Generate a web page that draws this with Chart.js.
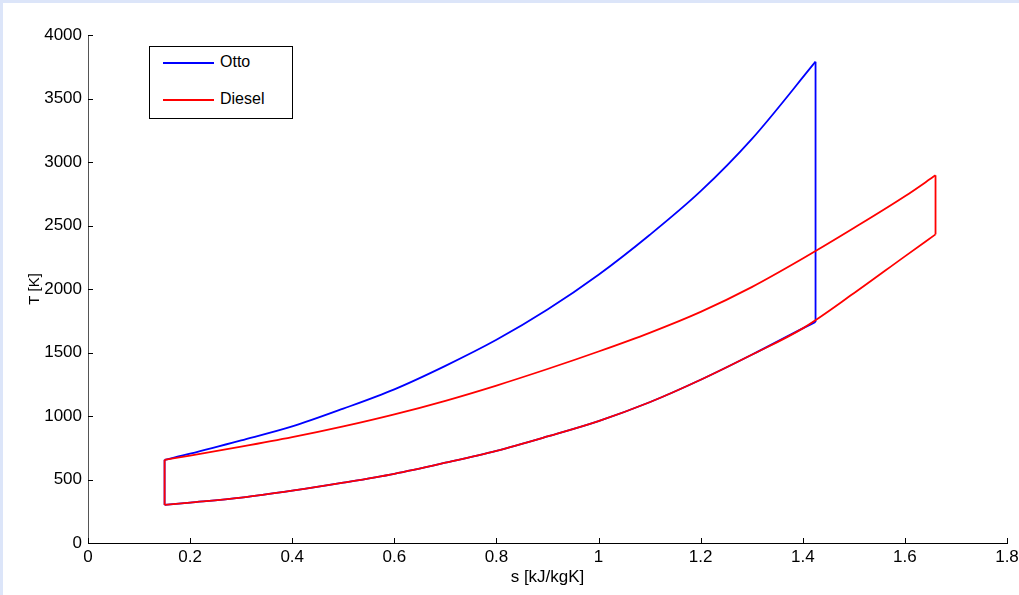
<!DOCTYPE html>
<html>
<head>
<meta charset="utf-8">
<script src="https://cdn.jsdelivr.net/npm/chart.js@4.4.1/dist/chart.umd.min.js"></script>
<style>
  html, body { margin: 0; padding: 0; background: #dce5f9; overflow: hidden; }
  #wrap { position: absolute; left: 3px; top: 3px; width: 1016px; height: 592px; background: #fff; }
  #legend { position: absolute; left: 146px; top: 43px; width: 142px; height: 71px; border: 1px solid #000; background: #fff;
            font-family: "Liberation Sans", Arial, Helvetica, sans-serif; font-size: 16px; color: #000; }
  .row { position: absolute; left: 13px; height: 20px; line-height: 20px; white-space: nowrap; }
  .swatch { display: inline-block; width: 51px; height: 2px; vertical-align: middle; margin-right: 6px; }
</style>
</head>
<body>
<div id="wrap">
  <canvas id="canvas" width="1016" height="592"></canvas>
  <div id="legend">
    <div class="row" style="top:5px"><span class="swatch" style="background:#0000ff"></span>Otto</div>
    <div class="row" style="top:42px"><span class="swatch" style="background:#ff0000"></span>Diesel</div>
  </div>
</div>
<script>
// Otto: heat addition (upper) and heat rejection (lower), s in kJ/kgK, T in K
var ottoHeatS = [0.15, 0.2, 0.3, 0.4, 0.5, 0.6, 0.7, 0.8, 0.9, 1.0, 1.1, 1.2, 1.3, 1.425];
var ottoHeatT = [655, 703, 808, 918, 1058, 1210, 1395, 1600, 1838, 2112, 2425, 2770, 3180, 3790];
var ottoRejectS = [0.15, 0.2, 0.3, 0.4, 0.5, 0.6, 0.7, 0.8, 0.9, 1.0, 1.1, 1.2, 1.3, 1.4, 1.425];
var ottoRejectT = [300, 318, 357, 412, 475, 545, 632, 726, 839, 960, 1108, 1285, 1482, 1690, 1740];

// Diesel: heat addition at constant pressure, rejection at constant volume
var dieselHeatS = [0.15, 0.2, 0.3, 0.4, 0.5, 0.6, 0.7, 0.8, 0.9, 1.0, 1.1, 1.2, 1.3, 1.4, 1.5, 1.6, 1.66];
var dieselHeatT = [655, 688, 758, 833, 918, 1013, 1120, 1240, 1370, 1508, 1655, 1820, 2015, 2240, 2480, 2730, 2895];
var dieselRejectS = [0.15, 0.2, 0.3, 0.4, 0.5, 0.6, 0.7, 0.8, 0.9, 1.0, 1.1, 1.2, 1.3, 1.4, 1.5, 1.6, 1.66];
var dieselRejectT = [300, 318, 357, 412, 475, 545, 632, 726, 839, 960, 1108, 1285, 1482, 1690, 1966, 2257, 2430];

var xTicks = [0, 0.2, 0.4, 0.6, 0.8, 1, 1.2, 1.4, 1.6, 1.8];
var yTicks = [0, 500, 1000, 1500, 2000, 2500, 3000, 3500, 4000];

var blue = '#0000ff';
var red = '#ff0000';

function toPoints(xs, ys) {
  var pts = [];
  for (var i = 0; i < xs.length; i++) {
    pts.push({x: xs[i], y: ys[i]});
  }
  return pts;
}

// vertical line between the same point index of two curves
function vertical(xs, lowT, highT, i) {
  return [{x: xs[i], y: lowT[i]}, {x: xs[i], y: highT[i]}];
}
function lastIdx(a) { return a.length - 1; }

function line(data, color, order, smooth) {
  return {
    data: data,
    showLine: true,
    borderColor: color,
    backgroundColor: color,
    borderWidth: 1.8,
    pointRadius: 0,
    cubicInterpolationMode: smooth ? 'monotone' : 'default',
    tension: 0,
    order: order
  };
}

var font = {family: '"Liberation Sans", Arial, Helvetica, sans-serif', size: 17};

// matlab style ticks pointing into the plot
var innerTicks = {
  id: 'innerTicks',
  afterDraw: function(chart) {
    var ctx = chart.ctx;
    var a = chart.chartArea;
    var xs = chart.scales.x, ys = chart.scales.y;
    ctx.save();
    ctx.strokeStyle = '#000';
    ctx.lineWidth = 1;
    ctx.beginPath();
    yTicks.forEach(function(v) {
      var p = Math.round(ys.getPixelForValue(v)) + 0.5;
      ctx.moveTo(a.left, p);
      ctx.lineTo(a.left + 5, p);
    });
    xTicks.forEach(function(v) {
      var p = Math.round(xs.getPixelForValue(v)) + 0.5;
      ctx.moveTo(p, a.bottom);
      ctx.lineTo(p, a.bottom - 5);
    });
    ctx.stroke();
    ctx.restore();
  }
};

var ctx = document.getElementById('canvas').getContext('2d');
var config = {
  type: 'scatter',
  data: {
    datasets: [
      line(toPoints(ottoHeatS, ottoHeatT), blue, 3, true),
      line(toPoints(ottoRejectS, ottoRejectT), blue, 3, true),
      line([{x: ottoHeatS[0], y: ottoRejectT[0]}, {x: ottoHeatS[0], y: ottoHeatT[0]}], blue, 3, false),
      line([{x: ottoHeatS[lastIdx(ottoHeatS)], y: ottoHeatT[lastIdx(ottoHeatT)]},
            {x: ottoRejectS[lastIdx(ottoRejectS)], y: ottoRejectT[lastIdx(ottoRejectT)]}], blue, 3, false),
      line(toPoints(dieselHeatS, dieselHeatT), red, 1, true),
      line(toPoints(dieselRejectS, dieselRejectT), red, 1, true),
      line(vertical(dieselHeatS, dieselRejectT, dieselHeatT, 0), red, 1, false),
      line(vertical(dieselHeatS, dieselRejectT, dieselHeatT, lastIdx(dieselHeatS)), red, 1, false)
    ]
  },
  options: {
    responsive: false,
    animation: false,
    layout: {padding: {left: 19, top: 32, right: 12, bottom: 3}},
    plugins: {legend: {display: false}, tooltip: {enabled: false}},
    scales: {
      x: {
        type: 'linear',
        min: 0,
        max: 1.8,
        afterBuildTicks: function(s) { s.ticks = xTicks.map(function(v) { return {value: v}; }); },
        afterFit: function(s) { s.height = 49; s.paddingLeft = 0; s.paddingRight = 0; },
        ticks: {color: '#000', font: font, padding: 4, maxRotation: 0,
                callback: function(v) { return String(+v.toFixed(1)); }},
        grid: {display: true, drawOnChartArea: false, drawTicks: false},
        border: {display: true, color: '#000', width: 1},
        title: {display: true, text: 's [kJ/kgK]', color: '#000', font: font}
      },
      y: {
        type: 'linear',
        min: 0,
        max: 4000,
        afterBuildTicks: function(s) { s.ticks = yTicks.map(function(v) { return {value: v}; }); },
        afterFit: function(s) { s.width = 66; },
        ticks: {color: '#000', font: font, padding: 6,
                callback: function(v) { return String(v); }},
        grid: {display: true, drawOnChartArea: false, drawTicks: false},
        border: {display: true, color: '#555', width: 1},
        title: {display: true, text: 'T [K]', color: '#000', font: {family: font.family, size: 15}}
      }
    }
  },
  plugins: [innerTicks]
};

var chart = new Chart(ctx, config);
</script>
</body>
</html>
